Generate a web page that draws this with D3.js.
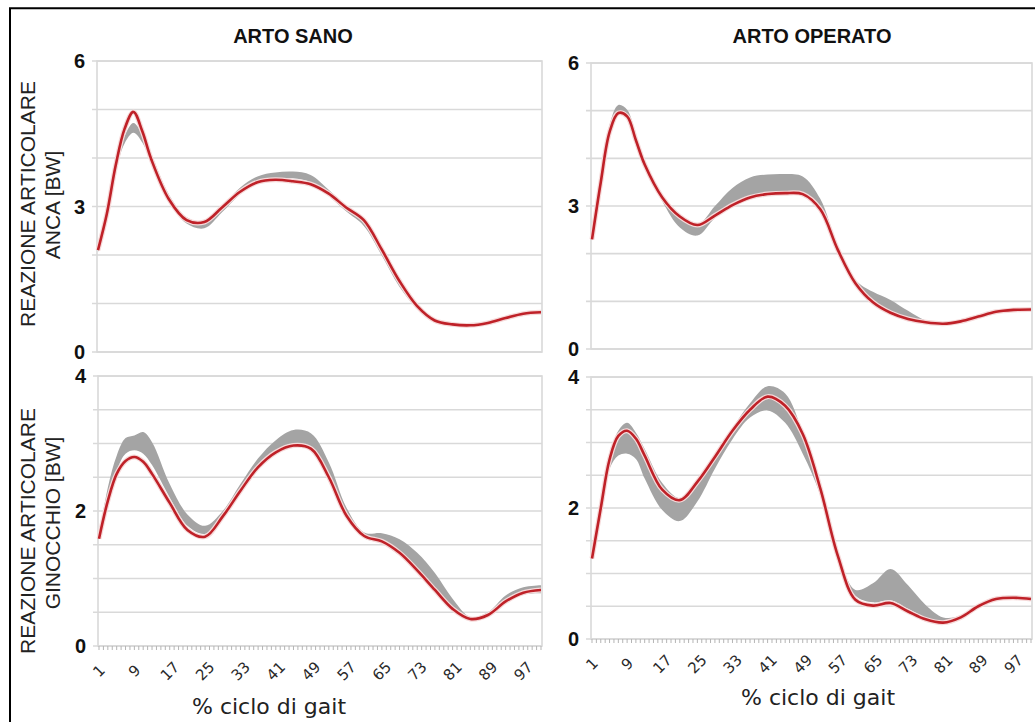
<!DOCTYPE html>
<html>
<head>
<meta charset="utf-8">
<script src="https://cdn.jsdelivr.net/npm/d3@7"></script>
<style>
  html, body { margin: 0; padding: 0; background: #fff; }
  svg { display: block; }
</style>
</head>
<body>
<svg id="chart" width="1035" height="722"></svg>
<script>
// % of gait cycle at which the curves are sampled
const gaitPct = [1, 3, 5, 7, 9, 11, 13, 17, 21, 25, 29, 33, 37, 41, 45, 49, 53, 57, 61, 65, 69, 73, 77, 81, 85, 89, 93, 97, 101];

// Category labels shown under the knee plots
const xTickLabels = [1, 9, 17, 25, 33, 41, 49, 57, 65, 73, 81, 89, 97];
const hipTicks = [0, 3, 6];
const kneeTicks = [0, 2, 4];

// Hip joint reaction [BW] – healthy limb
const hipSanoPatient = [2.10, 2.85, 3.85, 4.60, 4.95, 4.55, 3.98, 3.15, 2.72, 2.68, 2.98, 3.30, 3.50, 3.55, 3.52, 3.46, 3.27, 2.98, 2.72, 2.12, 1.47, 0.95, 0.65, 0.57, 0.55, 0.60, 0.70, 0.79, 0.82];
const hipSanoLow     = [2.05, 2.80, 3.72, 4.30, 4.52, 4.32, 3.92, 3.10, 2.65, 2.55, 2.88, 3.25, 3.50, 3.56, 3.58, 3.50, 3.22, 2.90, 2.60, 2.00, 1.35, 0.90, 0.62, 0.55, 0.53, 0.58, 0.68, 0.77, 0.80];
const hipSanoHigh    = [2.15, 2.90, 3.85, 4.45, 4.72, 4.48, 4.08, 3.25, 2.78, 2.70, 3.00, 3.38, 3.62, 3.70, 3.72, 3.65, 3.35, 3.02, 2.72, 2.10, 1.45, 0.98, 0.68, 0.60, 0.58, 0.63, 0.73, 0.82, 0.86];

// Hip joint reaction [BW] – operated limb
const hipOperatoPatient = [2.30, 3.50, 4.55, 4.95, 4.88, 4.38, 3.87, 3.18, 2.78, 2.60, 2.80, 3.02, 3.18, 3.25, 3.27, 3.25, 2.93, 2.08, 1.38, 0.98, 0.76, 0.63, 0.56, 0.53, 0.58, 0.68, 0.78, 0.82, 0.83];
const hipOperatoLow     = [2.25, 3.45, 4.50, 4.93, 4.85, 4.33, 3.83, 3.10, 2.55, 2.38, 2.75, 3.02, 3.18, 3.25, 3.27, 3.25, 2.95, 2.08, 1.38, 0.98, 0.76, 0.63, 0.55, 0.52, 0.57, 0.67, 0.77, 0.81, 0.82];
const hipOperatoHigh    = [2.35, 3.60, 4.70, 5.12, 5.02, 4.50, 3.95, 3.20, 2.75, 2.60, 3.00, 3.38, 3.60, 3.66, 3.67, 3.62, 3.15, 2.15, 1.45, 1.20, 1.03, 0.80, 0.60, 0.56, 0.61, 0.71, 0.81, 0.85, 0.86];

// Knee joint reaction [BW] – healthy limb
const kneeSanoPatient = [1.59, 2.15, 2.55, 2.74, 2.80, 2.73, 2.55, 2.12, 1.72, 1.62, 1.92, 2.30, 2.65, 2.87, 2.97, 2.92, 2.50, 1.93, 1.63, 1.55, 1.38, 1.12, 0.83, 0.55, 0.40, 0.46, 0.66, 0.79, 0.83];
const kneeSanoLow     = [1.57, 2.20, 2.60, 2.85, 2.90, 2.85, 2.68, 2.20, 1.78, 1.66, 1.90, 2.30, 2.68, 2.90, 3.00, 2.95, 2.55, 1.95, 1.60, 1.52, 1.34, 1.09, 0.80, 0.53, 0.38, 0.44, 0.64, 0.76, 0.78];
const kneeSanoHigh    = [1.62, 2.35, 2.82, 3.08, 3.12, 3.17, 3.02, 2.40, 1.95, 1.78, 2.00, 2.40, 2.78, 3.05, 3.20, 3.15, 2.72, 2.05, 1.68, 1.67, 1.58, 1.38, 1.08, 0.70, 0.43, 0.50, 0.75, 0.87, 0.90];

// Knee joint reaction [BW] – operated limb
const kneeOperatoPatient = [1.23, 2.00, 2.74, 3.10, 3.18, 3.06, 2.80, 2.28, 2.12, 2.40, 2.78, 3.18, 3.50, 3.70, 3.56, 3.13, 2.30, 1.27, 0.60, 0.51, 0.55, 0.42, 0.30, 0.25, 0.33, 0.50, 0.61, 0.63, 0.61];
const kneeOperatoLow     = [1.20, 1.95, 2.60, 2.80, 2.83, 2.75, 2.45, 1.97, 1.80, 2.10, 2.60, 3.05, 3.38, 3.49, 3.30, 2.83, 2.20, 1.25, 0.66, 0.56, 0.59, 0.46, 0.33, 0.27, 0.32, 0.49, 0.60, 0.62, 0.60];
const kneeOperatoHigh    = [1.26, 2.05, 2.80, 3.18, 3.30, 3.15, 2.90, 2.38, 2.15, 2.38, 2.80, 3.22, 3.60, 3.86, 3.75, 3.15, 2.32, 1.32, 0.75, 0.85, 1.07, 0.82, 0.52, 0.33, 0.36, 0.53, 0.64, 0.66, 0.64];

const svg = d3.select("#chart");

const COLORS = {
  grid: "#d9d9d9",
  band: "#a4a4a4",
  line: "#bf2128",
  halo: "#f6dada",
  text: "#111"
};

// Outer frame of the figure
svg.append("path")
  .attr("d", "M10,722 V8.3 H1035")
  .attr("fill", "none")
  .attr("stroke", "#000")
  .attr("stroke-width", 2);

const panels = [
  { box: [97, 542, 61, 352],  yMax: 6, step: 1,   ticks: hipTicks,  mean: hipSanoPatient,     lo: hipSanoLow,     hi: hipSanoHigh,     xAxis: false },
  { box: [591, 1032, 63, 349], yMax: 6, step: 1,   ticks: hipTicks,  mean: hipOperatoPatient,  lo: hipOperatoLow,  hi: hipOperatoHigh,  xAxis: false },
  { box: [98, 542, 376, 646], yMax: 4, step: 0.5, ticks: kneeTicks, mean: kneeSanoPatient,    lo: kneeSanoLow,    hi: kneeSanoHigh,    xAxis: true, labelY: 646, titleX: 269, titleY: 714 },
  { box: [591, 1032, 377, 639], yMax: 4, step: 0.5, ticks: kneeTicks, mean: kneeOperatoPatient, lo: kneeOperatoLow, hi: kneeOperatoHigh, xAxis: true, labelY: 639, titleX: 818, titleY: 705 }
];

panels.forEach(p => {
  const [left, right, top, bottom] = p.box;
  const x = d3.scaleLinear().domain([1, 101]).range([left + 1, right - 1]);
  const y = d3.scaleLinear().domain([0, p.yMax]).range([bottom, top]);
  const g = svg.append("g");

  // horizontal gridlines with short outer ticks
  const gridVals = d3.range(0, p.yMax + p.step / 2, p.step);
  g.selectAll("line.grid").data(gridVals).join("line")
    .attr("class", "grid")
    .attr("x1", left - 5).attr("x2", right)
    .attr("y1", d => y(d)).attr("y2", d => y(d))
    .attr("stroke", COLORS.grid).attr("stroke-width", 1.6);

  // plot area frame
  g.append("rect")
    .attr("x", left).attr("y", top)
    .attr("width", right - left).attr("height", bottom - top)
    .attr("fill", "none").attr("stroke", COLORS.grid).attr("stroke-width", 1.6);

  // y tick labels
  g.selectAll("text.ytick").data(p.ticks).join("text")
    .attr("class", "ytick")
    .attr("x", left - 12).attr("y", d => y(d))
    .attr("dy", "0.36em")
    .attr("text-anchor", "end")
    .attr("font-family", "Liberation Sans, Arial, sans-serif")
    .attr("font-weight", "bold")
    .attr("font-size", 20)
    .attr("fill", COLORS.text)
    .text(d => d);

  const pts = gaitPct.map((c, i) => ({ c, m: p.mean[i], lo: p.lo[i], hi: p.hi[i] }));
  const curve = d3.curveCatmullRom.alpha(0.5);

  // reference band
  g.append("path").datum(pts)
    .attr("d", d3.area().x(d => x(d.c)).y0(d => y(d.lo)).y1(d => y(d.hi)).curve(curve))
    .attr("fill", COLORS.band);

  // patient curve with a light halo
  const line = d3.line().x(d => x(d.c)).y(d => y(d.m)).curve(curve);
  g.append("path").datum(pts).attr("d", line)
    .attr("fill", "none").attr("stroke", COLORS.halo).attr("stroke-width", 5)
    .attr("stroke-linejoin", "round");
  g.append("path").datum(pts).attr("d", line)
    .attr("fill", "none").attr("stroke", COLORS.line).attr("stroke-width", 2.6)
    .attr("stroke-linejoin", "round");

  if (p.xAxis) {
    // minor ticks for every category
    g.selectAll("line.minor").data(d3.range(1, 102)).join("line")
      .attr("class", "minor")
      .attr("x1", d => x(d)).attr("x2", d => x(d))
      .attr("y1", bottom).attr("y2", bottom + 4)
      .attr("stroke", "#b5b5b5").attr("stroke-width", 1);

    g.selectAll("text.xtick").data(xTickLabels).join("text")
      .attr("class", "xtick")
      .attr("transform", d => `translate(${x(d)},${p.labelY + 25}) rotate(-45)`)
      .attr("text-anchor", "middle")
      .attr("dy", "0.35em")
      .attr("font-family", "DejaVu Sans, sans-serif")
      .attr("font-size", 15)
      .attr("fill", "#2a2a2a")
      .text(d => d);

    g.append("text")
      .attr("x", p.titleX).attr("y", p.titleY)
      .attr("text-anchor", "middle")
      .attr("font-family", "DejaVu Sans, sans-serif")
      .attr("font-size", 22)
      .attr("fill", "#222")
      .text("% ciclo di gait");
  }
});

// Column titles
const colTitles = [
  { text: "ARTO SANO", x: 293 },
  { text: "ARTO OPERATO", x: 812 }
];
svg.selectAll("text.coltitle").data(colTitles).join("text")
  .attr("class", "coltitle")
  .attr("x", d => d.x).attr("y", 43)
  .attr("text-anchor", "middle")
  .attr("font-family", "Liberation Sans, Arial, sans-serif")
  .attr("font-weight", "bold")
  .attr("font-size", 20)
  .attr("fill", "#111")
  .text(d => d.text);

// Row (y-axis) titles, two lines each, rotated
const rowTitles = [
  { lines: ["REAZIONE ARTICOLARE", "ANCA [BW]"], cy: [204, 205] },
  { lines: ["REAZIONE ARTICOLARE", "GINOCCHIO [BW]"], cy: [531, 523] }
];
const lineX = [34.5, 59.5];
rowTitles.forEach(r => {
  r.lines.forEach((t, i) => {
    svg.append("text")
      .attr("transform", `translate(${lineX[i]},${r.cy[i]}) rotate(-90)`)
      .attr("text-anchor", "middle")
      .attr("font-family", "Liberation Sans, Arial, sans-serif")
      .attr("font-size", 21)
      .attr("fill", "#222")
      .text(t);
  });
});
</script>
</body>
</html>
